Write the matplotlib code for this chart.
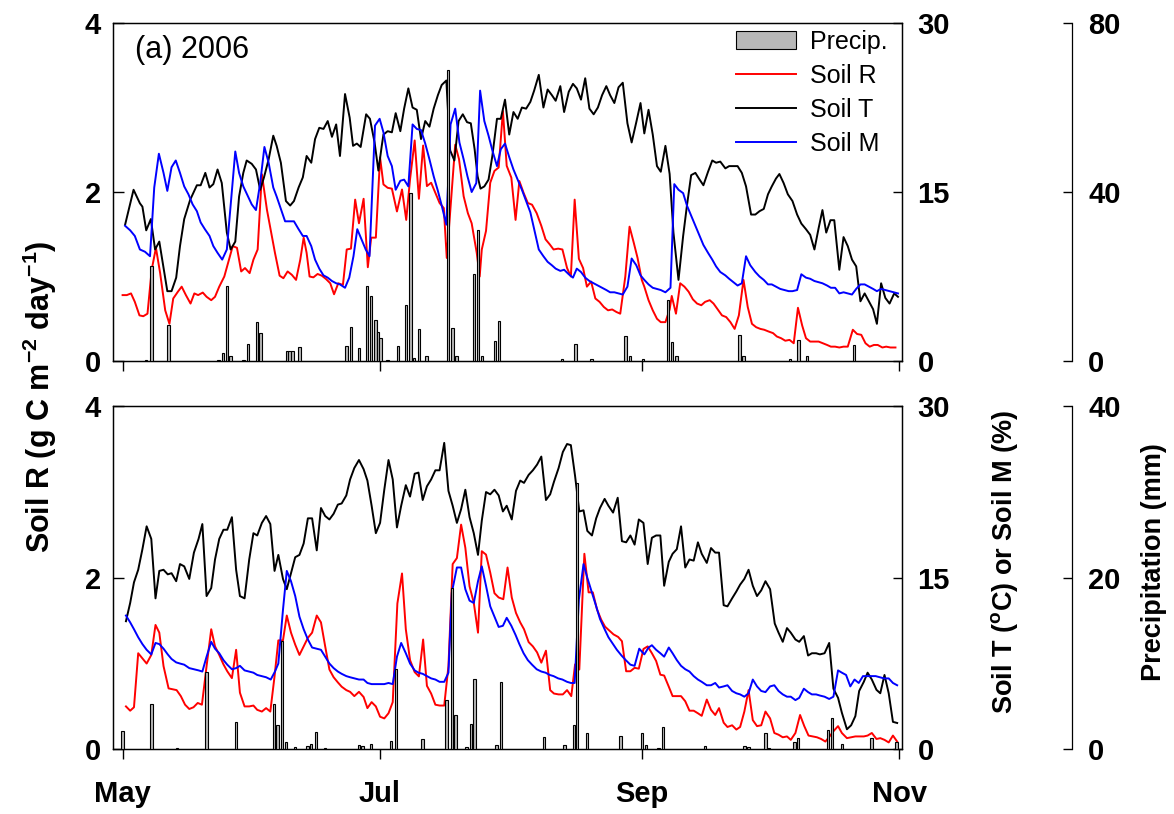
import matplotlib
matplotlib.use('Agg')
import matplotlib.pyplot as plt

plt.rcParams['font.family'] = ['Liberation Sans', 'DejaVu Sans']
plt.rcParams['font.weight'] = 'bold'
plt.rcParams['mathtext.fontset'] = 'custom'
plt.rcParams['mathtext.rm'] = 'Liberation Sans:bold'
plt.rcParams['mathtext.it'] = 'Liberation Sans:bold'
plt.rcParams['mathtext.bf'] = 'Liberation Sans:bold'

# days after May 1
month_ticks = [0, 61, 123, 184]
month_labels = ['May', 'Jul', 'Sep', 'Nov']

# ---- 2006 (top panel) ----
r06_day = [0.0, 1.0, 2.0, 2.9, 4.0, 4.9, 5.9, 6.9, 7.9, 8.9, 10.1, 11.1, 12.0, 13.1, 14.0, 15.0, 16.1, 17.0, 17.9, 19.0,
           19.9, 21.0, 21.9, 22.9, 24.1, 26.1, 27.1, 28.1, 29.0, 30.1, 31.0, 32.0, 33.0, 34.2, 35.2, 36.1, 37.2, 38.1,
           39.1, 40.1, 41.1, 42.1, 42.9, 43.6, 44.3, 45.2, 46.2, 47.2, 48.2, 49.2, 50.1, 51.1, 52.2, 53.1, 54.1, 55.1,
           56.0, 57.1, 58.1, 58.9, 60.0, 61.0, 61.8, 62.8, 63.8, 65.0, 66.2, 67.2, 68.1, 69.2, 70.2, 71.2, 72.1, 73.1,
           74.1, 75.1, 76.1, 76.8, 78.8, 79.7, 80.8, 81.8, 82.7, 83.9, 84.6, 85.1, 86.1, 87.1, 88.1, 89.1, 90.1, 91.0,
           92.1, 93.1, 94.0, 95.0, 96.0, 97.0, 98.1, 99.2, 100.2, 101.2, 102.1, 103.2, 104.2, 105.3, 106.2, 107.1,
           108.1, 109.1, 110.0, 111.0, 112.0, 113.0, 114.0, 115.0, 116.0, 117.0, 117.9, 119.1, 120.1, 121.1, 122.0,
           123.0, 123.6, 124.6, 125.6, 126.6, 127.5, 128.6, 129.6, 130.1, 131.1, 132.1, 133.1, 134.1, 135.1, 136.1,
           137.1, 138.0, 139.1, 140.0, 141.0, 142.0, 143.0, 144.0, 145.0, 146.0, 147.1, 148.1, 149.1, 150.1, 151.1,
           152.0, 153.0, 154.1, 155.0, 156.0, 157.0, 158.0, 159.0, 160.0, 161.0, 161.9, 162.9, 163.9, 164.9, 165.9,
           166.9, 167.8, 168.8, 169.8, 170.8, 171.8, 173.0, 174.0, 175.0, 176.0, 177.0, 178.0, 178.9, 180.0, 180.9,
           181.9, 183.1]
r06_val = [0.78, 0.78, 0.80, 0.70, 0.54, 0.53, 0.56, 1.08, 1.34, 1.04, 0.60, 0.44, 0.74, 0.82, 0.88, 0.78, 0.68, 0.80,
           0.78, 0.81, 0.76, 0.72, 0.76, 0.88, 1.00, 1.36, 1.34, 1.06, 1.10, 1.04, 1.20, 1.32, 2.21, 1.79, 1.52, 1.28,
           1.01, 0.98, 1.06, 1.02, 0.96, 1.20, 1.46, 1.28, 1.00, 0.99, 1.03, 1.01, 0.97, 0.92, 0.79, 0.92, 0.90, 1.32,
           1.33, 1.91, 1.63, 1.92, 1.11, 1.46, 1.46, 2.41, 2.09, 2.05, 2.04, 1.77, 2.03, 1.67, 2.15, 2.61, 1.92, 2.55,
           2.07, 2.11, 1.99, 1.87, 1.81, 1.22, 2.56, 2.39, 1.95, 1.75, 1.63, 1.28, 1.00, 1.32, 1.54, 2.11, 2.25, 2.29,
           2.96, 2.31, 2.17, 1.67, 2.13, 1.99, 1.87, 1.85, 1.75, 1.60, 1.44, 1.38, 1.32, 1.33, 1.32, 1.10, 1.00, 1.91,
           1.21, 1.10, 0.88, 0.94, 0.74, 0.70, 0.64, 0.60, 0.61, 0.58, 0.56, 1.00, 1.59, 1.40, 1.22, 0.96, 0.88, 0.72,
           0.60, 0.50, 0.46, 0.46, 0.61, 0.77, 0.56, 0.92, 0.88, 0.82, 0.73, 0.68, 0.66, 0.70, 0.72, 0.68, 0.61, 0.54,
           0.52, 0.46, 0.38, 0.54, 0.96, 0.64, 0.44, 0.40, 0.38, 0.37, 0.35, 0.33, 0.29, 0.27, 0.24, 0.25, 0.21, 0.63,
           0.42, 0.27, 0.23, 0.23, 0.23, 0.21, 0.19, 0.17, 0.17, 0.16, 0.17, 0.17, 0.37, 0.32, 0.31, 0.21, 0.17, 0.19,
           0.19, 0.16, 0.17, 0.16, 0.16]

t06_day = [0.6, 2.6, 4.1, 4.7, 5.6, 6.7, 7.7, 8.7, 10.6, 11.6, 12.7, 13.6, 14.6, 16.0, 17.6, 18.5, 19.6, 20.6, 21.5,
           22.5, 23.5, 24.7, 25.6, 26.7, 27.6, 28.6, 29.4, 30.6, 31.6, 32.6, 33.5, 34.6, 35.7, 36.5, 37.5, 38.7, 39.7,
           40.6, 41.7, 42.7, 43.6, 44.7, 45.6, 46.6, 47.6, 48.6, 49.6, 50.6, 51.5, 52.7, 53.8, 54.6, 55.5, 56.4, 57.7,
           58.6, 59.7, 60.6, 61.4, 61.8, 62.8, 63.8, 64.7, 65.8, 66.7, 67.7, 68.7, 69.7, 70.7, 71.7, 72.7, 73.7, 74.7,
           75.6, 76.7, 77.6, 78.6, 79.6, 80.6, 81.6, 82.5, 83.4, 84.1, 84.8, 85.7, 86.7, 87.6, 88.7, 89.6, 90.6, 91.6,
           92.6, 93.6, 94.6, 95.6, 96.6, 97.5, 98.6, 99.7, 100.7, 101.7, 102.6, 103.7, 104.6, 105.7, 106.7, 107.6,
           108.6, 109.6, 110.6, 111.6, 112.6, 113.6, 114.6, 115.5, 116.5, 117.5, 118.5, 119.6, 120.6, 121.7, 122.7,
           123.6, 124.6, 125.6, 126.6, 127.5, 128.6, 129.6, 130.5, 131.7, 132.8, 133.7, 134.7, 135.7, 136.7, 137.6,
           138.7, 139.7, 140.6, 141.6, 142.8, 143.7, 144.7, 145.7, 146.7, 147.7, 148.9, 149.9, 150.9, 151.9, 152.9,
           153.8, 154.8, 155.6, 156.6, 157.6, 158.7, 159.8, 160.8, 161.9, 162.9, 163.9, 164.9, 165.8, 166.7, 167.7,
           168.6, 169.8, 170.8, 171.8, 172.8, 173.8, 174.8, 175.8, 176.8, 177.8, 178.7, 179.7, 180.7, 181.7, 182.8,
           183.7]
t06_val = [12.1, 15.2, 14.0, 13.7, 11.6, 12.6, 9.9, 10.6, 6.2, 6.2, 7.4, 10.2, 12.6, 14.3, 15.6, 15.6, 16.7, 15.4, 15.7,
           17.0, 15.8, 11.4, 9.9, 10.6, 14.6, 16.7, 17.8, 17.5, 17.0, 15.2, 16.3, 17.9, 20.0, 19.1, 17.6, 14.2, 13.8,
           14.2, 15.4, 16.3, 18.2, 17.6, 19.7, 20.7, 20.6, 21.3, 19.9, 21.0, 18.2, 23.7, 21.6, 19.1, 19.3, 19.0, 21.9,
           21.5, 19.4, 16.9, 19.1, 20.1, 20.4, 20.3, 22.0, 20.4, 22.4, 24.2, 22.5, 22.3, 19.7, 21.3, 20.8, 22.4, 23.6,
           24.5, 24.9, 18.7, 17.8, 21.3, 21.9, 21.2, 21.1, 18.8, 16.4, 15.3, 15.5, 16.1, 18.2, 21.5, 21.5, 23.2, 20.1,
           22.1, 21.5, 22.5, 22.4, 23.0, 24.0, 25.4, 22.5, 24.1, 23.6, 23.1, 24.4, 22.1, 23.9, 24.6, 24.2, 23.2, 25.1,
           22.4, 21.9, 22.5, 23.6, 24.4, 23.6, 22.9, 24.3, 24.7, 21.1, 19.4, 21.2, 22.9, 20.2, 22.3, 20.1, 17.3, 16.8,
           19.1, 16.6, 11.4, 7.2, 11.1, 13.8, 16.5, 16.7, 16.1, 15.6, 16.8, 17.8, 17.6, 17.7, 17.1, 17.3, 17.3, 17.3,
           16.7, 15.5, 13.0, 13.0, 13.3, 13.5, 14.8, 15.5, 16.2, 16.6, 15.8, 14.8, 14.2, 13.0, 12.2, 11.7, 11.2, 9.9,
           11.8, 13.4, 11.4, 12.5, 12.5, 8.1, 11.0, 10.2, 9.0, 8.4, 5.3, 6.0, 5.3, 4.6, 3.3, 6.9, 5.6, 5.1, 6.0, 5.7]

m06_day = [0.6, 1.8, 2.9, 4.1, 5.3, 6.5, 7.5, 8.6, 9.7, 10.6, 11.6, 12.6, 13.6, 14.6, 15.6, 16.6, 17.6, 18.5, 19.5,
           20.6, 21.5, 22.5, 23.6, 24.7, 26.7, 27.6, 28.6, 29.6, 30.6, 31.6, 32.6, 33.6, 34.6, 35.7, 36.5, 37.5, 38.5,
           39.7, 40.6, 41.7, 42.7, 43.6, 44.7, 45.6, 46.6, 47.6, 48.6, 49.6, 50.6, 51.5, 52.7, 53.7, 54.7, 55.6, 56.6,
           57.6, 58.5, 59.8, 60.9, 61.8, 62.8, 63.8, 64.7, 65.8, 66.7, 67.7, 68.7, 69.7, 70.7, 71.7, 72.7, 73.7, 74.7,
           75.6, 76.7, 77.7, 78.8, 79.8, 80.8, 81.7, 82.7, 83.8, 84.7, 85.7, 86.7, 87.6, 88.7, 89.6, 90.6, 91.6, 92.6,
           93.6, 94.6, 95.6, 96.6, 97.5, 98.6, 99.7, 100.7, 101.7, 102.6, 103.7, 104.6, 105.7, 106.7, 107.6, 108.6,
           109.6, 110.6, 111.6, 112.6, 113.6, 114.6, 115.5, 116.5, 117.5, 118.5, 119.6, 120.6, 121.7, 122.7, 123.6,
           124.6, 125.6, 126.6, 127.5, 128.6, 129.8, 130.7, 131.7, 132.8, 133.7, 134.7, 135.7, 136.7, 137.6, 138.7,
           139.7, 140.6, 141.6, 142.8, 143.7, 144.7, 145.7, 146.7, 147.7, 148.7, 149.9, 150.9, 151.9, 152.9, 153.8,
           154.8, 155.8, 156.8, 157.8, 158.7, 159.8, 160.8, 161.9, 162.9, 163.9, 164.9, 165.8, 166.9, 167.8, 168.8,
           169.8, 170.8, 171.8, 172.8, 173.8, 174.8, 175.8, 176.8, 177.8, 178.7, 179.7, 180.7, 181.7, 182.8, 183.7]
m06_val = [12.0, 11.6, 11.1, 9.9, 9.7, 9.3, 15.4, 18.4, 16.7, 15.1, 17.2, 17.8, 16.7, 15.5, 14.8, 13.9, 13.3, 12.3, 11.7,
           11.1, 10.2, 9.6, 9.0, 9.9, 18.6, 16.7, 15.5, 14.7, 13.9, 13.4, 15.8, 19.0, 17.6, 15.4, 14.6, 13.5, 12.4,
           12.4, 12.4, 11.7, 11.1, 11.1, 10.2, 9.0, 8.2, 7.6, 7.4, 7.1, 6.9, 6.8, 6.5, 7.4, 9.3, 11.7, 10.8, 9.9, 9.3,
           20.9, 21.5, 20.3, 18.2, 17.3, 15.2, 16.0, 16.1, 15.5, 21.0, 20.6, 20.5, 19.3, 17.9, 16.4, 15.1, 13.8, 12.1,
           21.0, 22.4, 19.4, 17.9, 16.4, 15.0, 15.8, 24.0, 21.3, 20.0, 18.7, 17.3, 18.8, 19.3, 18.1, 17.0, 16.1, 15.2,
           14.2, 13.2, 11.7, 9.9, 9.3, 8.8, 8.5, 8.2, 8.0, 8.1, 7.7, 7.4, 8.2, 7.9, 7.4, 7.1, 6.9, 6.7, 6.5, 6.3, 6.1,
           6.1, 6.0, 5.9, 6.6, 9.1, 8.5, 7.6, 7.2, 6.8, 6.5, 6.4, 6.3, 6.1, 6.5, 15.7, 15.2, 14.9, 13.8, 12.9, 12.0,
           11.1, 10.3, 9.6, 9.0, 8.4, 7.9, 7.6, 7.3, 7.0, 6.7, 6.9, 9.3, 8.5, 7.9, 7.5, 7.2, 6.8, 6.8, 6.6, 6.4, 6.3,
           6.2, 6.2, 6.3, 7.7, 7.4, 7.3, 7.1, 7.0, 6.9, 6.7, 6.5, 6.5, 6.0, 6.1, 6.0, 5.9, 6.4, 6.8, 6.8, 6.6, 6.4, 6.2,
           6.4, 6.3, 6.2, 6.1, 6.0]

p06_day = [5.5, 6.8, 10.9, 22.7, 23.8, 24.7, 25.6, 28.7, 29.7, 31.8, 32.7, 38.9, 39.5, 40.2, 41.9, 53.0, 54.1, 56.0,
           57.9, 58.9, 59.9, 60.5, 61.1, 62.8, 65.2, 67.1, 68.2, 69.0, 70.2, 72.0, 77.1, 78.1, 79.1, 83.3, 84.2, 85.2,
           88.2, 89.2, 104.1, 107.3, 111.1, 119.2, 120.2, 123.3, 129.2, 130.2, 131.2, 146.1, 147.1, 158.1, 160.1,
           162.1, 173.3]
p06_val = [0.3, 22.4, 8.5, 0.3, 1.9, 17.8, 1.3, 0.3, 4.1, 9.3, 6.7, 2.3, 2.3, 2.4, 3.3, 3.6, 8.1, 3.1, 17.8, 15.4, 9.7,
           6.9, 5.5, 0.3, 3.6, 13.3, 39.7, 0.6, 7.5, 1.3, 69.0, 7.7, 1.1, 20.6, 31.0, 1.3, 4.8, 9.5, 0.5, 4.1, 0.5, 5.9,
           1.1, 0.5, 14.4, 4.5, 1.1, 6.1, 1.2, 0.5, 4.9, 1.1, 3.7]

# ---- 2007 (bottom panel) ----
r07_day = [0.8, 1.8, 2.7, 3.7, 4.7, 5.7, 6.8, 7.8, 8.7, 9.7, 10.9, 11.9, 12.8, 13.8, 14.8, 15.8, 16.8, 17.8, 18.8, 19.9,
           21.0, 21.9, 22.9, 23.9, 24.8, 25.9, 26.9, 27.8, 28.9, 30.0, 31.0, 31.9, 33.0, 34.0, 35.0, 36.0, 36.9, 38.0,
           38.9, 39.9, 40.9, 41.9, 42.9, 43.9, 44.9, 46.0, 47.0, 48.0, 49.0, 50.0, 51.0, 51.9, 53.0, 53.9, 54.9, 56.0,
           57.1, 58.0, 59.0, 60.0, 61.0, 62.0, 63.0, 64.0, 65.1, 66.2, 67.1, 68.1, 69.2, 70.2, 71.2, 72.1, 73.1, 74.1,
           75.1, 76.2, 77.2, 78.2, 79.2, 80.2, 81.2, 82.2, 83.2, 84.2, 85.1, 86.1, 87.1, 88.1, 89.1, 90.2, 91.2, 92.2,
           93.2, 94.2, 95.1, 96.2, 97.2, 98.2, 99.2, 100.3, 101.3, 102.2, 103.3, 104.3, 105.3, 106.3, 107.2, 108.2,
           109.4, 110.4, 111.4, 112.4, 113.4, 114.3, 115.4, 116.3, 117.4, 118.3, 119.3, 120.3, 121.3, 122.3, 123.4,
           124.4, 125.4, 126.4, 127.4, 128.3, 129.4, 130.3, 131.3, 132.3, 133.3, 134.3, 135.3, 136.3, 137.2, 138.4,
           139.4, 140.4, 141.3, 142.4, 143.3, 144.4, 145.4, 146.3, 147.3, 148.3, 149.3, 150.3, 151.3, 152.3, 153.4,
           154.4, 155.4, 156.4, 157.4, 158.3, 159.4, 160.5, 161.5, 162.5, 163.5, 164.5, 165.5, 166.5, 167.5, 168.4,
           169.5, 170.4, 171.6, 172.6, 173.6, 174.5, 175.6, 176.5, 177.5, 178.6, 179.5, 180.5, 181.5, 182.5, 183.5]
r07_val = [0.50, 0.45, 0.49, 1.12, 1.06, 1.00, 1.10, 1.45, 1.36, 0.97, 0.71, 0.70, 0.69, 0.62, 0.52, 0.47, 0.49, 0.54,
           0.52, 0.97, 1.40, 1.20, 1.10, 0.99, 0.91, 0.83, 1.16, 0.66, 0.50, 0.50, 0.51, 0.46, 0.44, 0.48, 0.44, 0.85,
           1.27, 1.27, 1.56, 1.36, 1.22, 1.10, 1.20, 1.30, 1.36, 1.56, 1.48, 1.20, 0.93, 0.84, 0.78, 0.73, 0.69, 0.67,
           0.62, 0.67, 0.61, 0.48, 0.55, 0.50, 0.38, 0.36, 0.42, 0.55, 1.70, 2.05, 1.40, 1.04, 0.90, 0.85, 1.28, 0.74,
           0.65, 0.52, 0.51, 0.51, 0.97, 2.16, 2.23, 2.62, 2.35, 1.90, 1.71, 1.36, 2.31, 2.27, 2.06, 1.82, 1.77, 1.75,
           2.12, 1.77, 1.59, 1.48, 1.40, 1.25, 1.20, 1.13, 1.01, 1.15, 0.69, 0.65, 0.64, 0.64, 0.69, 0.62, 0.99, 0.93,
           2.28, 1.83, 1.83, 1.63, 1.51, 1.43, 1.38, 1.34, 1.31, 1.26, 0.91, 0.91, 0.95, 0.94, 1.17, 1.20, 1.12, 1.03,
           0.87, 0.86, 0.73, 0.62, 0.62, 0.62, 0.56, 0.45, 0.45, 0.42, 0.39, 0.58, 0.46, 0.40, 0.48, 0.31, 0.26, 0.28,
           0.23, 0.26, 0.44, 0.69, 0.34, 0.27, 0.28, 0.44, 0.36, 0.19, 0.17, 0.14, 0.15, 0.11, 0.19, 0.40, 0.27, 0.16,
           0.15, 0.14, 0.12, 0.09, 0.15, 0.21, 0.27, 0.19, 0.13, 0.14, 0.15, 0.15, 0.15, 0.16, 0.19, 0.12, 0.13, 0.11,
           0.08, 0.16, 0.09]

t07_day = [0.8, 1.8, 2.7, 3.7, 4.7, 5.7, 6.8, 7.8, 8.7, 9.7, 10.7, 11.6, 12.7, 13.6, 14.6, 15.8, 16.9, 18.0, 18.9, 19.9,
           21.0, 21.9, 22.9, 23.9, 24.8, 25.9, 26.9, 27.8, 28.9, 30.0, 31.0, 31.9, 33.0, 34.0, 35.0, 36.0, 36.9, 38.0,
           38.9, 39.9, 40.9, 41.9, 42.9, 43.9, 44.9, 46.0, 47.0, 48.0, 49.0, 50.0, 51.0, 51.9, 53.0, 53.9, 54.9, 56.0,
           57.1, 58.0, 59.0, 60.0, 61.0, 62.0, 63.0, 64.0, 65.0, 66.0, 67.1, 68.1, 69.2, 70.1, 71.1, 72.1, 73.1, 74.1,
           75.1, 76.2, 77.2, 78.2, 79.2, 80.2, 81.2, 82.2, 83.2, 84.2, 85.1, 86.1, 87.1, 88.1, 89.1, 90.1, 91.0, 92.2,
           93.2, 94.2, 95.1, 96.2, 97.2, 98.2, 99.2, 100.3, 101.3, 102.2, 103.3, 104.3, 105.3, 106.2, 107.2, 108.2,
           109.2, 110.1, 111.2, 112.2, 113.1, 114.2, 115.1, 116.2, 117.3, 118.3, 119.3, 120.3, 121.3, 122.3, 123.4,
           124.4, 125.4, 126.4, 127.4, 128.3, 129.4, 130.3, 131.3, 132.3, 133.3, 134.3, 135.3, 136.3, 137.2, 138.4,
           139.4, 140.4, 141.3, 142.4, 143.3, 144.4, 145.4, 146.3, 147.3, 148.3, 149.3, 150.3, 151.3, 152.3, 153.4,
           154.5, 155.4, 156.4, 157.4, 158.3, 159.4, 160.3, 161.4, 162.4, 163.3, 164.3, 165.2, 166.3, 167.4, 168.4,
           169.5, 170.4, 171.6, 172.6, 173.6, 174.5, 175.6, 176.5, 177.5, 178.6, 179.5, 180.5, 181.5, 182.5, 183.5]
t07_val = [11.2, 12.8, 14.6, 15.7, 17.5, 19.5, 18.4, 13.2, 15.6, 15.7, 15.3, 15.4, 14.7, 16.2, 16.0, 14.9, 17.2, 18.4,
           19.7, 13.4, 14.1, 16.6, 18.4, 19.2, 19.2, 20.3, 15.7, 13.4, 13.2, 16.6, 18.9, 18.7, 19.8, 20.4, 19.7, 15.6,
           17.0, 14.9, 14.0, 15.4, 16.8, 17.0, 18.0, 20.2, 20.2, 17.4, 21.1, 20.4, 20.1, 20.6, 21.4, 21.5, 22.2, 23.6,
           24.6, 25.3, 24.5, 23.5, 21.3, 18.9, 19.8, 22.7, 25.3, 23.6, 19.4, 21.3, 23.1, 22.1, 24.1, 24.2, 21.8, 23.0,
           23.6, 24.4, 24.4, 26.8, 22.6, 21.3, 19.8, 21.0, 22.7, 20.3, 18.9, 17.0, 20.0, 22.5, 22.3, 22.7, 22.2, 20.8,
           21.3, 20.1, 22.6, 23.5, 23.3, 24.0, 24.4, 24.9, 25.6, 21.8, 22.3, 23.4, 24.6, 26.0, 26.7, 26.6, 23.9, 20.8,
           20.9, 19.1, 18.7, 20.2, 21.1, 21.9, 21.3, 20.7, 22.0, 18.2, 18.1, 18.7, 17.9, 20.1, 19.8, 16.2, 18.5, 18.7,
           18.7, 14.3, 16.4, 17.1, 17.5, 19.5, 15.9, 16.6, 16.5, 18.1, 17.1, 16.3, 17.6, 17.2, 17.2, 12.6, 12.5, 13.2,
           13.8, 14.4, 14.9, 15.7, 14.3, 13.4, 13.9, 14.7, 14.0, 11.0, 10.2, 9.4, 10.6, 10.2, 9.6, 9.4, 9.9, 8.2, 8.4,
           8.4, 8.3, 8.4, 9.3, 5.3, 4.5, 3.2, 1.75, 2.1, 2.9, 5.1, 5.9, 6.7, 6.1, 5.2, 4.9, 6.5, 4.9, 2.4, 2.3]

m07_day = [0.8, 1.8, 2.7, 3.7, 4.7, 5.7, 6.8, 7.8, 8.7, 9.7, 10.7, 11.6, 12.7, 13.6, 14.6, 15.8, 16.9, 18.0, 18.9, 19.9,
           21.0, 21.9, 22.9, 23.9, 24.8, 25.9, 26.9, 27.8, 28.9, 30.0, 31.0, 31.9, 33.0, 34.0, 35.1, 36.1, 36.9, 38.0,
           38.9, 39.9, 40.9, 41.9, 42.9, 43.9, 44.9, 45.9, 47.0, 48.0, 49.0, 50.0, 51.0, 51.9, 53.0, 53.9, 54.9, 56.0,
           57.1, 58.0, 59.0, 60.0, 61.0, 62.0, 63.0, 64.0, 65.0, 66.0, 67.1, 68.1, 69.2, 70.1, 71.1, 72.1, 73.1, 74.1,
           75.1, 76.2, 77.2, 78.0, 79.2, 80.2, 81.2, 82.2, 83.2, 84.2, 85.1, 86.1, 87.1, 88.1, 89.1, 90.1, 91.0, 92.1,
           93.1, 94.0, 95.0, 96.0, 97.0, 98.1, 99.2, 100.2, 101.2, 102.1, 103.2, 104.2, 105.3, 106.2, 107.1, 108.1,
           109.2, 110.1, 111.2, 112.2, 113.1, 114.2, 115.1, 116.2, 117.1, 118.2, 119.2, 120.3, 121.3, 122.4, 123.6,
           124.6, 125.4, 126.4, 127.4, 128.3, 129.4, 130.3, 131.3, 132.3, 133.3, 134.3, 135.3, 136.3, 137.2, 138.4,
           139.4, 140.4, 141.3, 142.4, 143.3, 144.4, 145.4, 146.3, 147.3, 148.3, 149.3, 150.3, 151.3, 152.3, 153.4,
           154.4, 155.4, 156.4, 157.4, 158.3, 159.4, 160.3, 161.4, 162.4, 163.3, 164.3, 165.2, 166.3, 167.4, 168.4,
           169.5, 170.4, 171.4, 172.4, 173.4, 174.4, 175.4, 176.4, 177.4, 178.4, 179.4, 180.4, 181.5, 182.5, 183.5]
m07_val = [11.7, 11.1, 10.5, 9.8, 9.2, 8.7, 8.3, 9.3, 9.2, 8.8, 8.3, 7.9, 7.6, 7.5, 7.4, 7.1, 7.0, 6.9, 6.8, 8.1, 9.4,
           8.8, 8.4, 7.8, 7.4, 7.0, 7.1, 7.3, 6.9, 6.8, 6.7, 6.5, 6.4, 6.3, 6.1, 6.8, 7.5, 12.2, 15.6, 14.7, 13.4, 11.6,
           10.5, 9.6, 8.9, 8.8, 8.7, 8.1, 7.5, 7.1, 6.8, 6.6, 6.4, 6.3, 6.2, 6.1, 6.1, 5.8, 5.7, 5.7, 5.7, 5.7, 5.8,
           5.7, 8.1, 9.3, 8.4, 7.5, 6.9, 6.7, 6.6, 6.4, 6.2, 6.1, 5.9, 5.9, 6.7, 13.7, 15.9, 15.9, 14.0, 13.0, 12.8,
           14.7, 16.0, 14.3, 12.5, 11.6, 10.7, 10.8, 11.5, 10.8, 10.0, 9.2, 8.4, 7.8, 7.4, 7.0, 6.8, 6.7, 6.5, 6.4,
           6.2, 6.1, 5.9, 5.8, 5.8, 13.1, 16.2, 15.0, 13.7, 12.5, 11.4, 10.5, 9.8, 9.2, 8.7, 8.2, 7.8, 7.4, 7.3, 8.8,
           8.3, 8.9, 9.1, 8.7, 8.4, 8.1, 8.9, 8.4, 7.8, 7.3, 7.0, 6.8, 6.4, 6.1, 5.9, 5.6, 5.6, 5.8, 5.4, 5.5, 5.6,
           5.1, 4.9, 4.8, 4.6, 4.9, 6.1, 5.5, 5.1, 5.0, 5.5, 5.6, 5.1, 4.8, 4.6, 4.6, 4.3, 4.5, 5.3, 5.0, 4.8, 4.8,
           4.7, 4.6, 4.4, 4.6, 6.9, 6.7, 6.5, 5.5, 6.1, 5.8, 6.4, 6.4, 6.4, 6.4, 6.3, 6.2, 6.2, 5.8, 5.6]

p07_day = [0.0, 6.9, 12.9, 19.9, 26.9, 35.9, 36.7, 37.8, 38.7, 40.9, 43.8, 44.6, 45.8, 48.0, 56.0, 56.8, 58.9, 63.6,
           64.8, 71.0, 76.7, 78.0, 78.9, 81.5, 82.5, 83.4, 88.6, 89.6, 99.8, 104.7, 106.9, 107.7, 110.0, 117.9, 123.0,
           124.0, 127.0, 128.0, 138.0, 147.3, 148.3, 152.3, 153.0, 159.2, 160.0, 167.1, 168.1, 170.4, 177.4, 183.4]
p07_val = [2.1, 5.3, 0.1, 9.0, 3.2, 5.3, 2.8, 12.6, 0.9, 0.3, 0.4, 0.6, 2.0, 0.1, 0.5, 0.4, 0.6, 1.0, 9.4, 1.2, 5.7,
           18.8, 4.0, 0.3, 3.0, 8.2, 0.5, 7.9, 1.4, 0.5, 2.8, 31.1, 1.9, 1.5, 1.9, 0.5, 0.2, 2.6, 0.4, 0.4, 0.3, 1.9,
           0.2, 0.9, 1.3, 2.2, 3.6, 0.6, 1.3, 0.8]

TICK_FS = 21
LEFT, WIDTH = 0.0965, 0.672


def panel(rect, r_d, r_v, t_d, t_v, m_d, m_v, p_d, p_v, pmax, bottom_labels):
    ax = fig.add_axes(rect)
    axt = ax.twinx()
    axp = ax.twinx()

    lr, = ax.plot(r_d, r_v, color='#ff0000', lw=1.4)
    lt, = axt.plot(t_d, t_v, color='black', lw=1.4)
    lm, = axt.plot(m_d, m_v, color='#0000ff', lw=1.4)
    bars = axp.bar(p_d, p_v, width=0.6, color='#b8b8b8', edgecolor='black', linewidth=0.8)

    ax.set_xlim(-2.2, 184.7)
    ax.set_ylim(0, 4)
    ax.set_yticks([0, 2, 4])
    axt.set_ylim(0, 30)
    axt.set_yticks([0, 15, 30])
    axp.set_ylim(0, pmax)
    axp.set_yticks([0, pmax // 2, pmax])

    ax.set_xticks(month_ticks)
    if bottom_labels:
        ax.set_xticklabels(month_labels)
    else:
        ax.set_xticklabels([])

    ax.tick_params(axis='x', direction='out', length=7, width=1, labelsize=TICK_FS, pad=15)
    ax.tick_params(axis='y', direction='in', length=8, width=1, labelsize=TICK_FS, pad=9)
    axt.tick_params(axis='y', direction='in', length=6.5, width=1, labelsize=TICK_FS, pad=11)
    axp.tick_params(axis='y', direction='in', length=6.5, width=1, labelsize=TICK_FS, pad=12)
    for a in (ax, axt, axp):
        for s in a.spines.values():
            s.set_linewidth(0.9)

    for s in ('top', 'bottom', 'left'):
        axp.spines[s].set_visible(False)
    axp.spines['right'].set_position(('outward', 122))
    return ax, axt, axp, bars, lr, lt, lm


fig = plt.figure(figsize=(11.74, 8.14), dpi=100)

ax1, axt1, axp1, bars1, lr1, lt1, lm1 = panel([LEFT, 0.5565, WIDTH, 0.4152], r06_day, r06_val, t06_day, t06_val,
                                              m06_day, m06_val, p06_day, p06_val, 80, False)
ax2, axt2, axp2, bars2, lr2, lt2, lm2 = panel([LEFT, 0.0795, WIDTH, 0.4214], r07_day, r07_val, t07_day, t07_val,
                                              m07_day, m07_val, p07_day, p07_val, 40, True)

ax1.text(0.0275, 0.965, '(a) 2006', transform=ax1.transAxes, fontsize=22, fontweight='normal',
         va='top', ha='left')

axp1.legend([bars1, lr1, lt1, lm1], ['Precip.', 'Soil R', 'Soil T', 'Soil M'],
            loc='upper right', bbox_to_anchor=(1.0, 1.025), frameon=False,
            prop={'size': 18, 'weight': 'normal'}, handlelength=2.4, handleheight=0.75,
            handletextpad=0.55, labelspacing=0.4, borderaxespad=0.2)

fig.text(0.034, 0.512, r'Soil R (g C m$^{-2}$ day$^{-1}$)', rotation=90, ha='center', va='center',
         fontsize=22)
fig.text(0.856, 0.31, r'Soil T ($^{o}$C) or Soil M (%)', rotation=90, ha='center', va='center',
         fontsize=19.5)
fig.text(0.983, 0.31, 'Precipitation (mm)', rotation=90, ha='center', va='center',
         fontsize=19.5)

fig.savefig('out.png', dpi=100)
